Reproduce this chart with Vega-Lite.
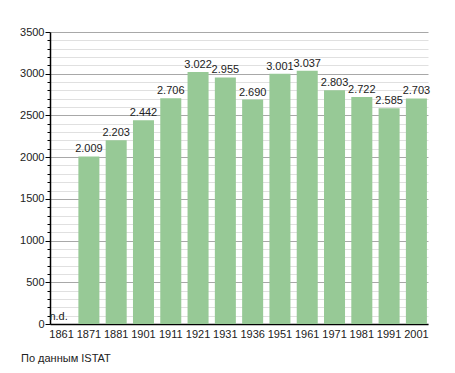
{
  "$schema": "https://vega.github.io/schema/vega-lite/v6.json",
  "autosize": {"type": "none"},
  "padding": {"left": 50, "top": 32, "right": 27, "bottom": 49},
  "width": 378,
  "height": 292,
  "background": "white",
  "title": {
    "text": "По данным ISTAT",
    "orient": "bottom",
    "anchor": "start",
    "frame": "group",
    "dx": -29,
    "offset": 14,
    "font": "Liberation Sans",
    "fontSize": 11,
    "fontWeight": "normal",
    "color": "#222"
  },
  "data": {
    "values": [
      {"year": "1861", "pop": null, "note": "n.d."},
      {"year": "1871", "pop": 2009},
      {"year": "1881", "pop": 2203},
      {"year": "1901", "pop": 2442},
      {"year": "1911", "pop": 2706},
      {"year": "1921", "pop": 3022},
      {"year": "1931", "pop": 2955},
      {"year": "1936", "pop": 2690},
      {"year": "1951", "pop": 3001},
      {"year": "1961", "pop": 3037},
      {"year": "1971", "pop": 2803},
      {"year": "1981", "pop": 2722},
      {"year": "1991", "pop": 2585},
      {"year": "2001", "pop": 2703}
    ]
  },
  "encoding": {
    "x": {
      "field": "year",
      "type": "ordinal",
      "scale": {"domain": ["1861","1871","1881","1901","1911","1921","1931","1936","1951","1961","1971","1981","1991","2001"], "paddingInner": 0.23, "paddingOuter": 0.04},
      "axis": {
        "title": null,
        "labelAngle": 0,
        "ticks": false,
        "labelPadding": 4,
        "domainColor": "#000",
        "domainWidth": 1.5,
        "labelFont": "Liberation Sans",
        "labelFontSize": 11,
        "labelColor": "#222"
      }
    }
  },
  "resolve": {"axis": {"y": "independent"}},
  "layer": [
    {
      "mark": {"type": "bar", "color": "#97c996"},
      "encoding": {
        "y": {
          "field": "pop",
          "type": "quantitative",
          "scale": {"domain": [0, 3500], "nice": false},
          "axis": {
            "title": null,
            "orient": "left",
            "values": [0,100,200,300,400,500,600,700,800,900,1000,1100,1200,1300,1400,1500,1600,1700,1800,1900,2000,2100,2200,2300,2400,2500,2600,2700,2800,2900,3000,3100,3200,3300,3400,3500],
            "format": "d",
            "labelExpr": "datum.value % 500 === 0 ? datum.label : ''",
            "labelOverlap": false,
            "grid": true,
            "gridColor": {"condition": {"test": "datum.value % 500 === 0", "value": "#a8a8a8"}, "value": "#e0e0e0"},
            "gridWidth": 1,
            "tickColor": "#000",
            "tickSize": {"condition": {"test": "datum.value % 500 === 0", "value": 5}, "value": 3},
            "labelPadding": 1,
            "domainColor": "#000",
            "domainWidth": 1.5,
            "labelFont": "Liberation Sans",
            "labelFontSize": 11,
            "labelColor": "#222",
            "labelBound": false
          }
        }
      }
    },
    {
      "transform": [{"filter": "isValid(datum.pop)"}],
      "mark": {"type": "text", "baseline": "bottom", "dy": -2, "font": "Liberation Sans", "fontSize": 11, "color": "#222"},
      "encoding": {
        "y": {"field": "pop", "type": "quantitative", "axis": null},
        "text": {"field": "pop", "type": "quantitative", "format": ",d"}
      }
    },
    {
      "transform": [{"filter": "isValid(datum.note)"}],
      "mark": {"type": "text", "baseline": "bottom", "dy": -2, "dx": -3, "font": "Liberation Sans", "fontSize": 11, "color": "#222"},
      "encoding": {
        "y": {"datum": 0, "type": "quantitative", "axis": null},
        "text": {"field": "note", "type": "nominal"}
      }
    }
  ],
  "config": {
    "view": {"stroke": null},
    "locale": {"number": {"decimal": ",", "thousands": ".", "grouping": [3], "currency": ["", " €"]}}
  }
}
